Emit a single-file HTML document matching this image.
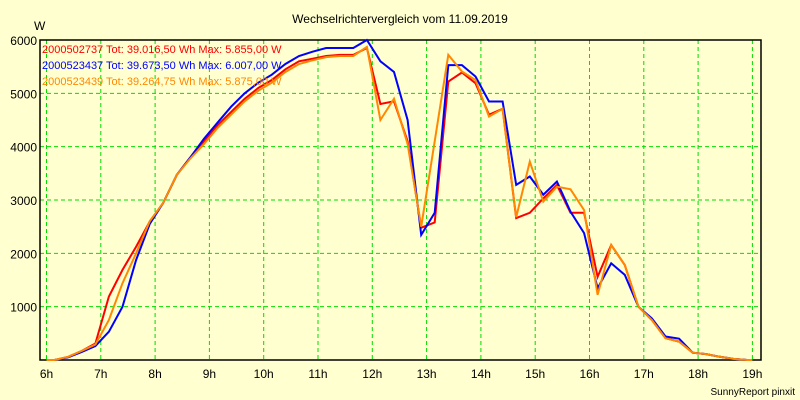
<!DOCTYPE html>
<html><head><meta charset="utf-8"><style>
body{margin:0;background:#FFFFD0;}
svg{display:block;font-family:"Liberation Sans",sans-serif;}
</style></head><body>
<svg id="chart" width="800" height="400" xmlns="http://www.w3.org/2000/svg">
<rect x="0" y="0" width="800" height="400" fill="#FFFFD0"/>
<text x="400" y="23" text-anchor="middle" font-size="12" fill="#000">Wechselrichtervergleich vom 11.09.2019</text>
<text x="34" y="30" font-size="12" fill="#000">W</text>
<text x="795" y="395" text-anchor="end" font-size="10" fill="#000">SunnyReport pinxit</text>
<g id="grid"></g><g id="axes"></g><g id="series"></g><g id="legend"></g>
</svg>
<script>
const times=[6.0,6.15,6.4,6.65,6.9,7.15,7.4,7.65,7.9,8.15,8.4,8.65,8.9,9.15,9.4,9.65,9.9,10.15,10.4,10.65,10.9,11.15,11.4,11.65,11.9,12.15,12.4,12.65,12.9,13.15,13.4,13.65,13.9,14.15,14.4,14.65,14.9,15.15,15.4,15.65,15.9,16.15,16.4,16.65,16.9,17.15,17.4,17.65,17.9,18.15,18.4,18.65,18.9,19.0];
const red=[0,0,60,170,310,1190,1690,2125,2595,2945,3470,3800,4100,4400,4650,4900,5100,5250,5450,5600,5650,5700,5720,5720,5850,4800,4850,4100,2480,2580,5220,5390,5190,4600,4710,2660,2760,3030,3280,2760,2760,1560,2157,1780,1000,750,410,345,137,110,60,20,0,0];
const blue=[0,0,50,150,260,530,1000,1875,2550,2945,3470,3800,4150,4450,4750,5000,5200,5350,5550,5700,5780,5850,5850,5850,6000,5600,5400,4500,2345,2760,5530,5530,5315,4846,4846,3283,3440,3100,3345,2780,2380,1345,1813,1595,1000,780,440,400,137,110,60,20,0,0];
const orange=[0,0,60,170,290,750,1440,2000,2600,2945,3470,3780,4050,4350,4600,4850,5050,5200,5400,5550,5620,5680,5700,5700,5870,4500,4900,4050,2500,4100,5720,5410,5250,4565,4710,2680,3720,2970,3250,3200,2810,1220,2157,1780,1000,750,407,345,137,110,60,20,0,0];
const yTicks=[1000,2000,3000,4000,5000,6000];
const xTicks=[6,7,8,9,10,11,12,13,14,15,16,17,18,19];
const legendLabels=["2000502737  Tot: 39.016,50 Wh Max: 5.855,00 W","2000523437  Tot: 39.673,50 Wh Max: 6.007,00 W","2000523439  Tot: 39.264,75 Wh Max: 5.875,00 W"];
const NS="http://www.w3.org/2000/svg";
const L=40,R=761,T=40,B=360;
const xs=t=>46.5+(t-6)*54.3;
const ys=v=>B-(v/6000)*(B-T);
function mk(tag,attrs,parent){const e=document.createElementNS(NS,tag);for(const k in attrs)e.setAttribute(k,attrs[k]);parent.appendChild(e);return e;}
const grid=document.getElementById('grid'),axes=document.getElementById('axes'),ser=document.getElementById('series'),leg=document.getElementById('legend');
yTicks.forEach(v=>{
  const l=mk('line',{x1:L,x2:R,y1:ys(v),y2:ys(v),stroke:'#00DD00','stroke-dasharray':'4,3'},grid);
  
  
  const t=mk('text',{x:37,y:ys(v)+5,'text-anchor':'end','font-size':'12',fill:'#000'},axes);
  t.textContent=v;
  
  
});
xTicks.forEach(h=>{
  const l=mk('line',{x1:xs(h),x2:xs(h),y1:T,y2:B,stroke:'#00DD00','stroke-dasharray':'4,3'},grid);
  
  
  const t=mk('text',{x:xs(h),y:378,'text-anchor':'middle','font-size':'12',fill:'#000'},axes);
  t.textContent=h+'h';
  
  
});
const fr=mk('rect',{x:L,y:T,width:R-L,height:B-T,fill:'none',stroke:'#000','stroke-width':'1.5'},axes);


function line(vals,color,name){
  const p=mk('polyline',{points:vals.map((v,i)=>xs(times[i]).toFixed(1)+','+ys(v).toFixed(1)).join(' '),fill:'none',stroke:color,'stroke-width':'2','stroke-linejoin':'miter'},ser);
  
  
}
line(red,'#FF0000','series-2000502737');
line(blue,'#0000FF','series-2000523437');
line(orange,'#FF8800','series-2000523439');
const cols=['#FF0000','#0000FF','#FF8800'];
legendLabels.forEach((s,i)=>{
  const t=mk('text',{x:42,y:53+i*16,'font-size':'11',fill:cols[i],'xml:space':'preserve'},leg);
  t.textContent=s;
  
  
});
</script>
</body></html>
